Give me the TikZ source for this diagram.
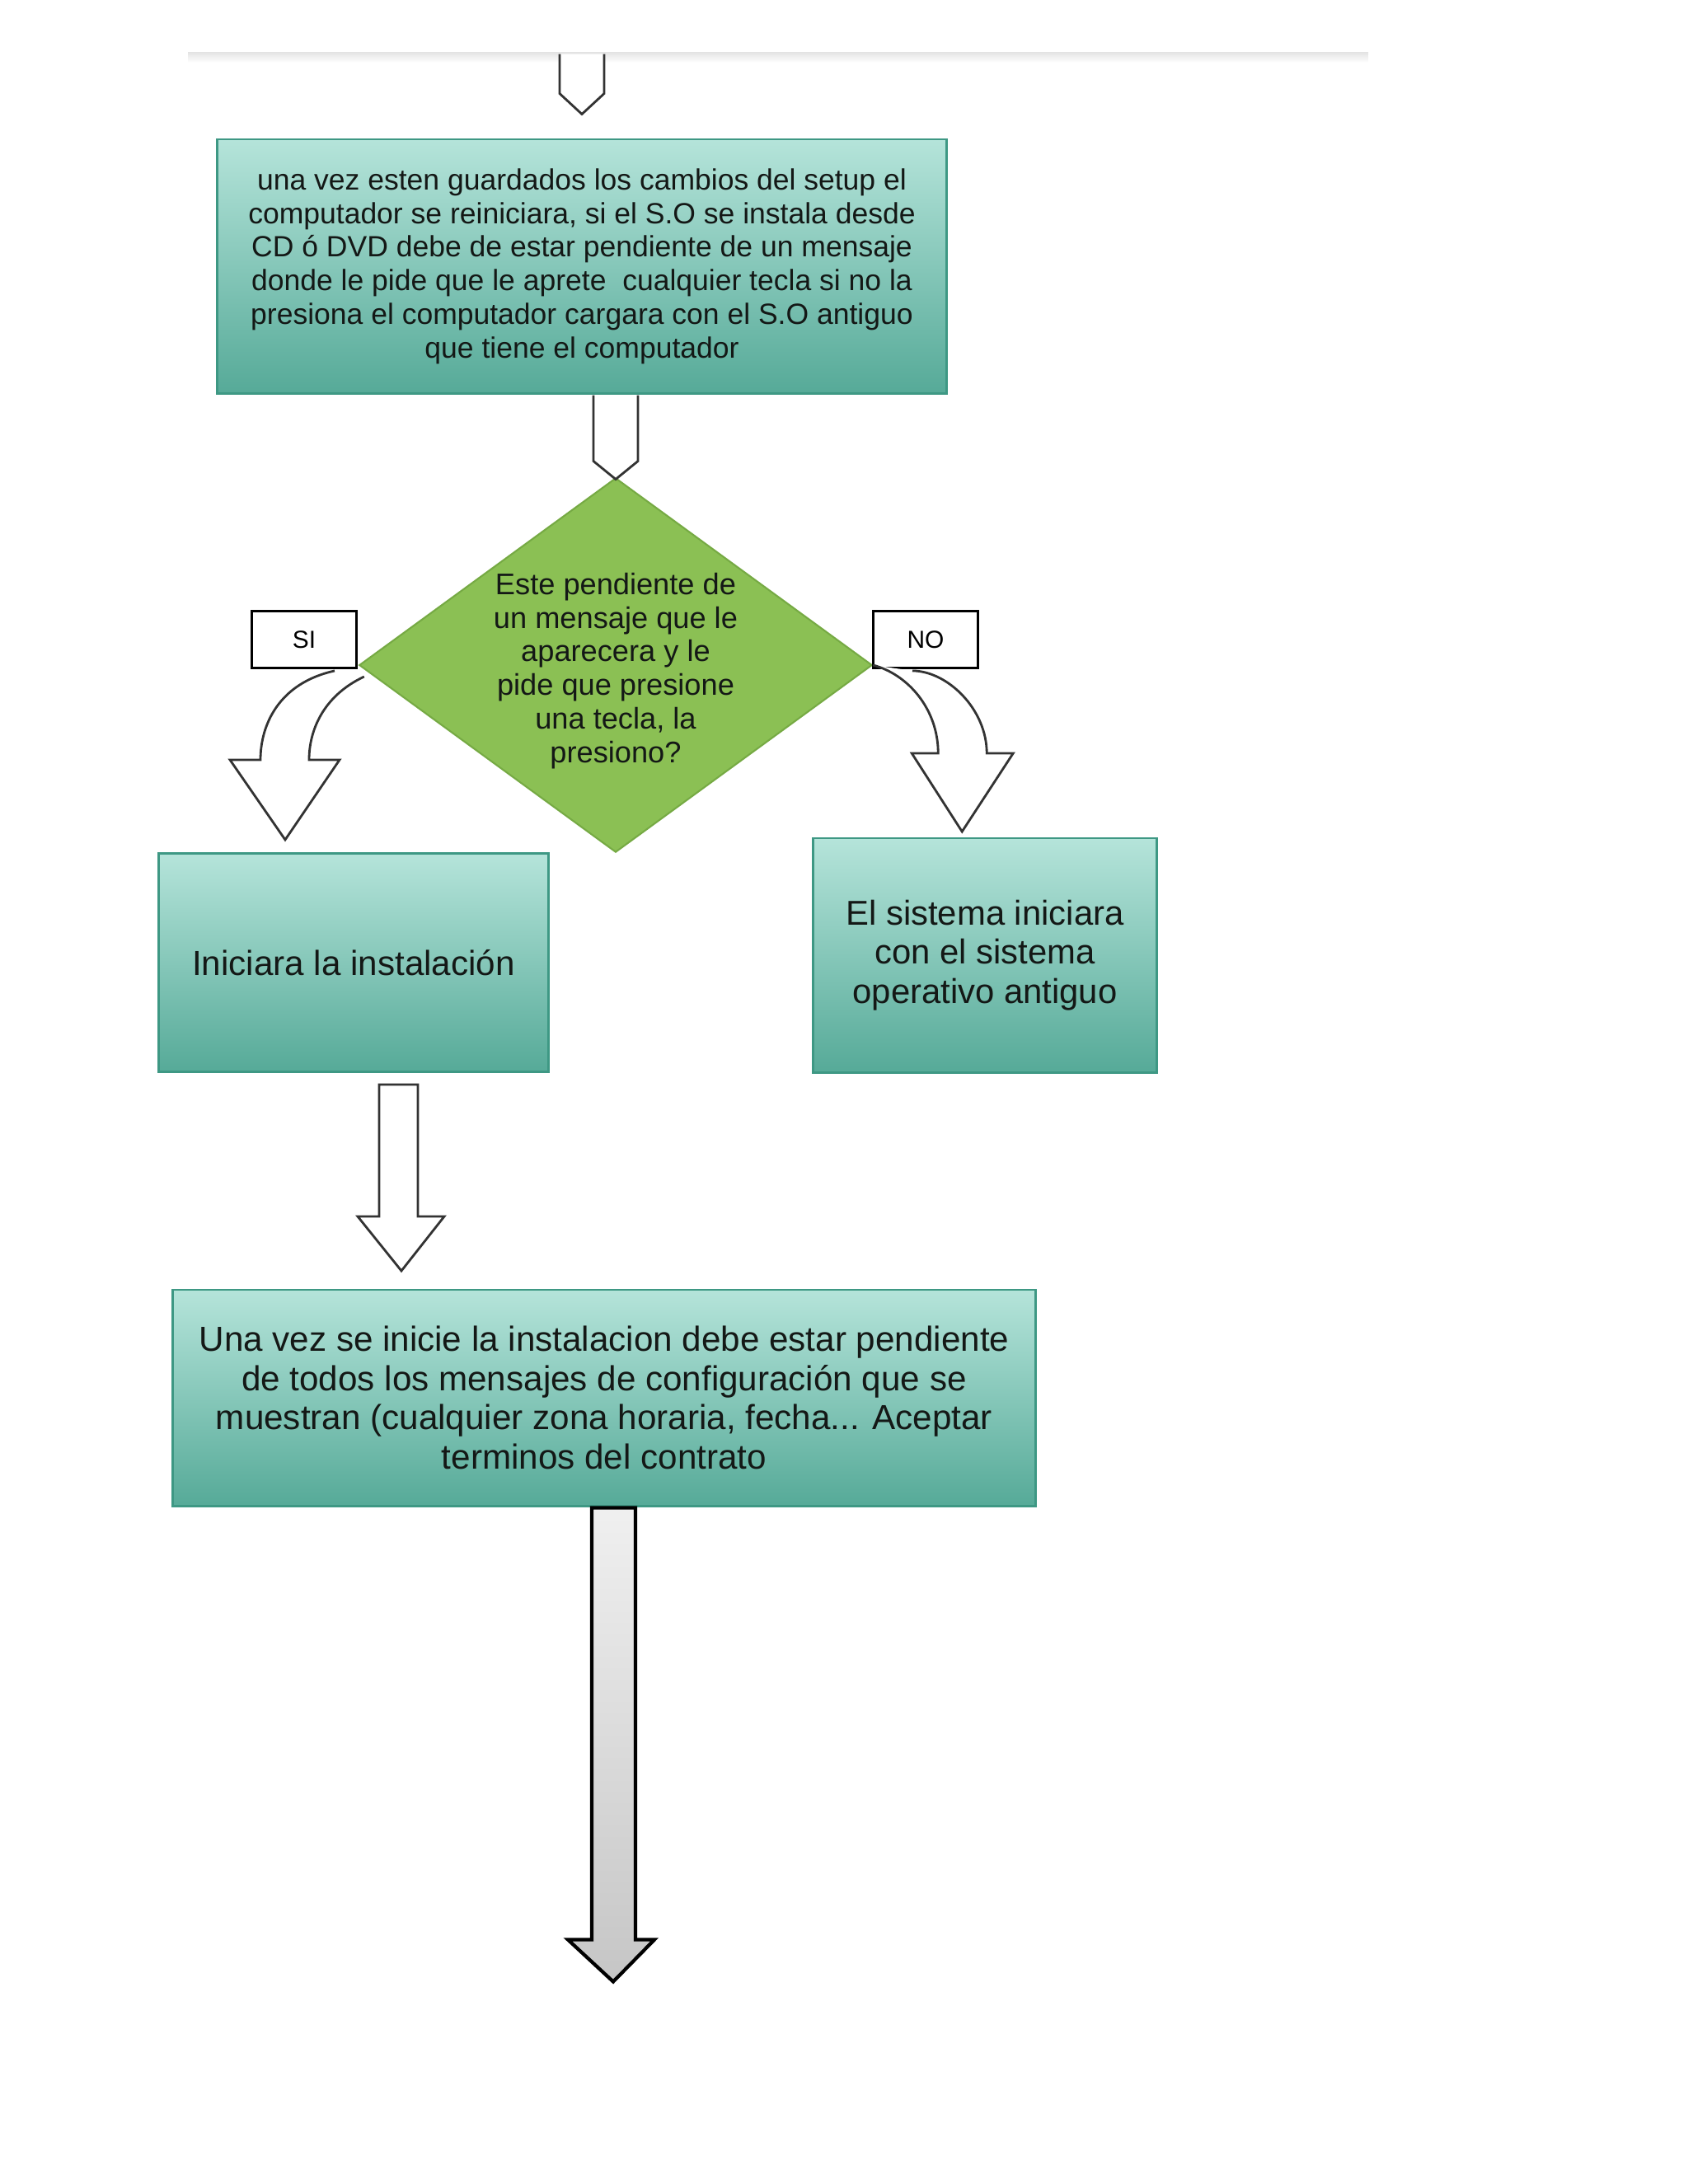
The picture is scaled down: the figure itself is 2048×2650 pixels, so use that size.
\documentclass[tikz,border=0pt]{standalone}
\usepackage{fontspec}
\setmainfont{Liberation Sans}
\usetikzlibrary{shapes.geometric, positioning, calc}
\definecolor{pasotop}{RGB}{181, 228, 218}
\definecolor{pasobot}{RGB}{86, 170, 152}
\definecolor{pasoborde}{RGB}{62, 152, 132}
\definecolor{decisionverde}{RGB}{139, 192, 84}
\definecolor{decisionborde}{RGB}{118, 170, 68}
\definecolor{textooscuro}{RGB}{20, 24, 22}

\begin{document}
\begin{tikzpicture}[x=0.01cm, y=-0.01cm,
    paso/.style={rectangle, draw=pasoborde, line width=0.8pt, top color=pasotop, bottom color=pasobot,
                 text=textooscuro, align=center, inner sep=0pt},
    decision/.style={diamond, draw=decisionborde, fill=decisionverde, line width=0.6pt, inner sep=0pt},
    etiqueta/.style={rectangle, draw=black, line width=0.8pt, fill=white, inner sep=0pt,
                     minimum width=1.27cm, minimum height=0.69cm, font=\fontsize{8.5}{9}\selectfont},
    flecha/.style={draw=black!80, line width=0.8pt, fill=white, line join=miter},
    flechagris/.style={draw=black, line width=1.2pt, top color=gray!12, bottom color=gray!45, line join=miter}]
    \useasboundingbox (0,0) rectangle (2048,2650);
    % borde gris de la captura
    \fill[top color=gray!22, bottom color=white] (228,63) rectangle (1660,76);

    % pasos
    \node[paso, minimum width=8.85cm, minimum height=3.08cm, font=\fontsize{10.1}{11.6}\selectfont] (paso1) at (706,323) {
        una vez esten guardados los cambios del setup el\\
        computador se reiniciara, si el S.O se instala desde\\
        CD ó DVD debe de estar pendiente de un mensaje\\
        donde le pide que le aprete\ \ cualquier tecla si no la\\
        presiona el computador cargara con el S.O antiguo\\
        que tiene el computador};
    \node[decision, minimum width=6.22cm, minimum height=4.54cm] (pregunta) at (747,807) {};
    \node[text=textooscuro, align=center, font=\fontsize{10.3}{11.6}\selectfont] (preguntatexto) at ($(pregunta.center)+(0,7)$) {
        Este pendiente de\\ un mensaje que le\\ aparecera y le\\ pide que presione\\ una tecla, la\\ presiono?};
    \node[etiqueta] (si) at (369,776) {SI};
    \node[etiqueta] (no) at (1123,776) {NO};
    \node[paso, minimum width=4.73cm, minimum height=2.65cm, font=\fontsize{12}{13.5}\selectfont] (instalar) at (429,1168) {Iniciara la instalación};
    \node[paso, minimum width=4.17cm, minimum height=2.84cm, font=\fontsize{11.9}{13.5}\selectfont] (antiguo) at (1195,1159) {
        El sistema iniciara\\ con el sistema\\ operativo antiguo};
    \node[paso, minimum width=10.46cm, minimum height=2.62cm, font=\fontsize{12}{13.5}\selectfont] (config) at (733,1696) {
        Una vez se inicie la instalacion debe estar pendiente\\
        de todos los mensajes de configuración que se\\
        muestran (cualquier zona horaria, fecha... Aceptar\\
        terminos del contrato};

    % flechas de bloque
    \draw[flecha] ($(paso1.north)+(-27,-102)$) -- ++(0,48) -- ++(27,25) -- ++(27,-25) -- ++(0,-48);
    \draw[flecha] ($(paso1.south)+(14,1)$) -- ++(0,80) -- ++(27,22) -- ++(27,-22) -- ++(0,-80);
    \draw[flecha] ($(si.south)+(37,2)$) .. controls +(-68,15) and +(0,-42) .. ++(-90,108)
        -- ++(-37,0) -- ++(67,97) -- ++(66,-97) -- ++(-37,0)
        .. controls +(0,-34) and +(-51,24) .. ($(pregunta.west)+(7,14)$);
    \draw[flecha] (pregunta.east) .. controls +(42,11) and +(0,-54) .. ++(79,107)
        -- ++(-32,0) -- ++(61,95) -- ++(62,-95) -- ++(-32,0)
        .. controls +(0,-54) and +(42,0) .. ($(no.south)+(-16,2)$);
    \draw[flecha] ($(instalar.south)+(31,14)$) -- ++(0,160) -- ++(-26,0) -- ++(53,66)
        -- ++(52,-66) -- ++(-32,0) -- ++(0,-160) -- cycle;
    \draw[flechagris] ($(config.south)+(-15,1)$) -- ++(0,524) -- ++(-29,0) -- ++(55,51)
        -- ++(50,-51) -- ++(-23,0) -- ++(0,-524) -- cycle;
\end{tikzpicture}
\end{document}
